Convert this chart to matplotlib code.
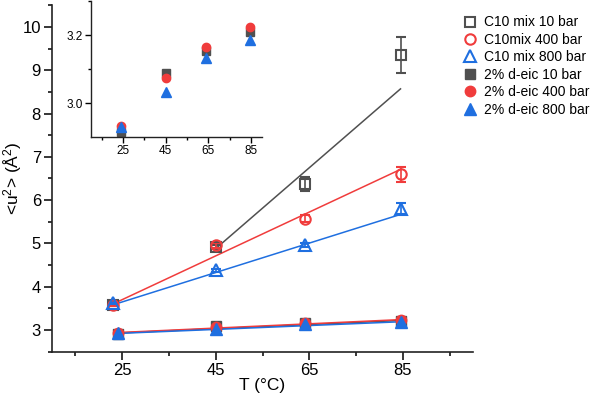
import matplotlib
matplotlib.use('Agg')
import matplotlib.pyplot as plt
import numpy as np

plt.rcParams['font.family'] = ['Liberation Sans', 'DejaVu Sans']
plt.rcParams['mathtext.fontset'] = 'custom'
plt.rcParams['mathtext.rm'] = 'Liberation Sans'
plt.rcParams['mathtext.default'] = 'regular'

# 数据
x_up = [23, 45, 64, 84.5]
x_low = [24, 45, 64, 84.5]

c10_10 = [3.58, 4.91, 6.37, 9.35]
c10_10_err = [0.03, 0.05, 0.16, 0.42]
c10_400 = [3.58, 4.96, 5.57, 6.60]
c10_400_err = [0.03, 0.06, 0.08, 0.17]
c10_800 = [3.62, 4.38, 4.97, 5.80]
c10_800_err = [0.03, 0.04, 0.05, 0.13]

deic_10 = [2.915, 3.088, 3.154, 3.208]
deic_400 = [2.932, 3.074, 3.166, 3.224]
deic_800 = [2.930, 3.033, 3.133, 3.185]
deic_err = [0.05, 0.05, 0.05, 0.05]

# 拟合线端点
fit_x_10 = [45, 84.5]
fit_y_10 = [4.88, 8.57]
fit_x_400 = [23, 84.5]
fit_y_400 = [3.60, 6.71]
fit_x_800 = [23, 84.5]
fit_y_800 = [3.58, 5.67]
fit_x_low = [24, 84.5]
fit_y_low_10 = [2.93, 3.22]
fit_y_low_400 = [2.94, 3.24]
fit_y_low_800 = [2.92, 3.19]

labels = ['C10 mix 10 bar', 'C10mix 400 bar', 'C10 mix 800 bar',
          '2% d-eic 10 bar', '2% d-eic 400 bar', '2% d-eic 800 bar']
xticks = [25, 45, 65, 85]

GRAY = '#505050'
RED = '#f03c3c'
BLUE = '#1f6fe0'

fig = plt.figure(figsize=(5.98, 3.94), dpi=100)
ax = fig.add_axes([0.087, 0.1075, 0.704, 0.879])

# 拟合线
ax.plot(fit_x_10, fit_y_10, color=GRAY, lw=1.1, zorder=2)
ax.plot(fit_x_400, fit_y_400, color=RED, lw=1.1, zorder=2)
ax.plot(fit_x_800, fit_y_800, color=BLUE, lw=1.1, zorder=2)
ax.plot(fit_x_low, fit_y_low_10, color=GRAY, lw=1.1, zorder=2)
ax.plot(fit_x_low, fit_y_low_400, color=RED, lw=1.1, zorder=2)
ax.plot(fit_x_low, fit_y_low_800, color=BLUE, lw=1.1, zorder=2)

ms = 7
hs = []
h = ax.errorbar(x_up, c10_10, yerr=c10_10_err, fmt='s', ms=ms, mfc='none', mec=GRAY,
                mew=1.5, ecolor=GRAY, elinewidth=1.2, capsize=3.5, capthick=1.2, zorder=3)
hs.append(h[0])
h = ax.errorbar(x_up, c10_400, yerr=c10_400_err, fmt='o', ms=ms + 0.5, mfc='none', mec=RED,
                mew=1.5, ecolor=RED, elinewidth=1.2, capsize=3.5, capthick=1.2, zorder=3)
hs.append(h[0])
h = ax.errorbar(x_up, c10_800, yerr=c10_800_err, fmt='^', ms=ms + 1, mfc='none', mec=BLUE,
                mew=1.5, ecolor=BLUE, elinewidth=1.2, capsize=3.5, capthick=1.2, zorder=3)
hs.append(h[0])
h = ax.errorbar(x_low, deic_10, yerr=deic_err, fmt='s', ms=ms, color=GRAY,
                elinewidth=1.0, capsize=2, zorder=3)
hs.append(h[0])
h = ax.errorbar(x_low, deic_400, yerr=deic_err, fmt='o', ms=ms + 0.5, color=RED,
                elinewidth=1.0, capsize=2, zorder=3)
hs.append(h[0])
h = ax.errorbar(x_low, deic_800, yerr=deic_err, fmt='^', ms=ms + 1, color=BLUE,
                elinewidth=1.0, capsize=2, zorder=3)
hs.append(h[0])

ax.set_xlim(10, 100)
ax.set_ylim(2.5, 10.5)
ax.set_xticks(xticks)
ax.set_xticks([15, 35, 55, 75, 95], minor=True)
ax.set_yticks(range(3, 11))
ax.set_yticks(np.arange(2.5, 10.6, 1.0), minor=True)
for s in ['top', 'right']:
    ax.spines[s].set_visible(False)
for s in ['left', 'bottom']:
    ax.spines[s].set_linewidth(1.2)
    ax.spines[s].set_color('#222222')
ax.tick_params(which='major', direction='out', length=5.5, width=1.1, labelsize=12, pad=2.5)
ax.tick_params(which='minor', direction='out', length=3, width=1.1)
ax.set_xlabel('T (°C)', fontsize=12.5, labelpad=0)
ax.set_ylabel('<u$^2$> (Å$^2$)', fontsize=12.5)
ax.yaxis.set_label_coords(-0.066, 0.5)

fig.legend(hs, labels, loc='upper left', bbox_to_anchor=(0.762, 0.975), frameon=False,
           fontsize=10, handletextpad=0.45, labelspacing=0.25, handlelength=1.2,
           borderaxespad=0)

# === 插图 ===
axi = fig.add_axes([0.152, 0.652, 0.286, 0.345])
axi.plot(x_low, deic_10, 's', ms=5.5, color=GRAY, ls='none')
axi.plot(x_low, deic_400, 'o', ms=6, color=RED, ls='none')
axi.plot(x_low, deic_800, '^', ms=6.5, color=BLUE, ls='none')
axi.set_xlim(10, 90)
axi.set_ylim(2.9, 3.3)
axi.set_xticks(xticks)
axi.set_xticks([15, 35, 55, 75], minor=True)
axi.set_yticks([3.0, 3.2])
axi.set_yticks([3.1, 3.3], minor=True)
axi.set_yticklabels(['3.0', '3.2'])
for s in ['top', 'right']:
    axi.spines[s].set_visible(False)
for s in ['left', 'bottom']:
    axi.spines[s].set_linewidth(1.0)
    axi.spines[s].set_color('#222222')
axi.tick_params(which='major', direction='out', length=4, width=1.0, labelsize=8.5, pad=2)
axi.tick_params(which='minor', direction='out', length=2.5, width=1.0)

plt.savefig('out.png', dpi=100, facecolor='white')
